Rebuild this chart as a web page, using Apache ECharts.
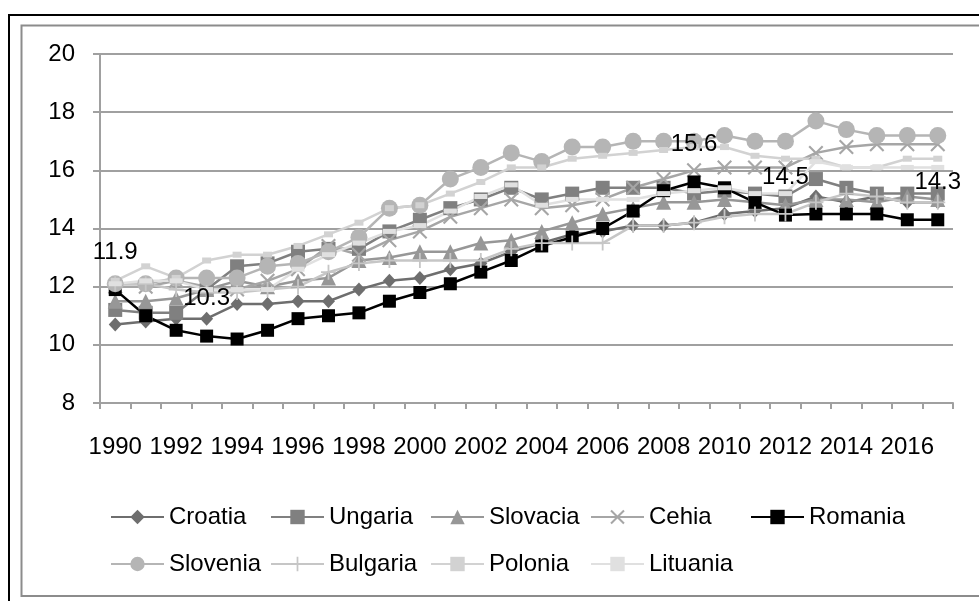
<!DOCTYPE html>
<html>
<head>
<meta charset="utf-8">
<script src="https://cdn.jsdelivr.net/npm/echarts@6/dist/echarts.min.js"></script>
<style>
  html, body { margin: 0; padding: 0; background: #fff; }
  #chart { width: 979px; height: 601px; }
</style>
</head>
<body>
<div id="chart"></div>
<script>
const years = [];
for (let y = 1990; y <= 2017; y++) years.push(String(y));

const croatia  = [10.7, 10.8, 10.9, 10.9, 11.4, 11.4, 11.5, 11.5, 11.9, 12.2, 12.3, 12.6, 12.8, 13.2, 13.5, 13.8, 13.9, 14.1, 14.1, 14.2, 14.5, 14.6, 14.7, 15.1, 14.9, 15.1, 14.9, 14.9];
const ungaria  = [11.2, 11.1, 11.1, 11.9, 12.7, 12.8, 13.2, 13.3, 13.3, 13.9, 14.3, 14.7, 15.0, 15.4, 15.0, 15.2, 15.4, 15.4, 15.4, 15.2, 15.3, 15.2, 15.1, 15.7, 15.4, 15.2, 15.2, 15.2];
const slovacia = [11.5, 11.5, 11.6, 11.9, 12.2, 12.0, 12.2, 12.3, 12.9, 13.0, 13.2, 13.2, 13.5, 13.6, 13.9, 14.2, 14.5, 14.7, 14.9, 14.9, 15.0, 14.9, 14.8, 15.0, 15.0, 14.9, 15.1, 15.0];
const cehia    = [12.0, 12.0, 12.2, 12.0, 11.9, 12.2, 12.6, 13.4, 13.1, 13.6, 13.9, 14.4, 14.7, 15.0, 14.7, 14.8, 15.0, 15.4, 15.7, 16.0, 16.1, 16.1, 16.1, 16.6, 16.8, 16.9, 16.9, 16.9];
const romania  = [11.9, 11.0, 10.5, 10.3, 10.2, 10.5, 10.9, 11.0, 11.1, 11.5, 11.8, 12.1, 12.5, 12.9, 13.4, 13.7, 14.0, 14.6, 15.3, 15.6, 15.4, 14.9, 14.46, 14.5, 14.5, 14.5, 14.3, 14.3];
const slovenia = [12.1, 12.1, 12.3, 12.3, 12.3, 12.7, 12.8, 13.2, 13.7, 14.7, 14.8, 15.7, 16.1, 16.6, 16.3, 16.8, 16.8, 17.0, 17.0, 17.0, 17.2, 17.0, 17.0, 17.7, 17.4, 17.2, 17.2, 17.2];
const bulgaria = [12.1, 12.1, 11.9, 11.8, 11.8, 11.9, 12.0, 12.5, 12.8, 12.9, 12.9, 12.9, 12.9, 13.3, 13.5, 13.5, 13.5, 14.1, 14.1, 14.2, 14.4, 14.5, 14.5, 14.9, 15.2, 15.1, 14.9, 14.9];
const polonia  = [12.2, 12.7, 12.3, 12.9, 13.1, 13.1, 13.4, 13.8, 14.2, 14.7, 14.8, 15.2, 15.6, 16.1, 16.1, 16.4, 16.5, 16.6, 16.7, 16.8, 16.8, 16.5, 16.4, 16.4, 16.1, 16.1, 16.4, 16.4];
const lituania = [12.1, 12.2, 12.2, 11.9, 11.9, 11.9, 12.6, 13.1, 13.5, 13.9, 14.1, 14.6, 15.1, 15.5, 14.8, 15.0, 15.0, 15.0, 15.2, 15.3, 15.4, 15.2, 15.2, 16.3, 16.1, 16.1, 16.1, 16.1];

// Romania points that carry a value label
const romaniaLabelled = [0, 3, 19, 22, 27];

// legend layout: two rows, first five names then four
const legendRows = [
  ['Croatia', 'Ungaria', 'Slovacia', 'Cehia', 'Romania'],
  ['Slovenia', 'Bulgaria', 'Polonia', 'Lituania']
];

const FONT = 'Liberation Sans';
const xMark = 'path://M0,1L1,0L5,4L9,0L10,1L6,5L10,9L9,10L5,6L1,10L0,9L4,5Z';
const plusMark = 'path://M4.4,0H5.6V4.4H10V5.6H5.6V10H4.4V5.6H0V4.4H4.4Z';

function makeSeries(name, data, color, symbol, size) {
  return {
    name: name,
    type: 'line',
    data: data,
    symbol: symbol,
    symbolSize: size,
    showAllSymbol: true,
    lineStyle: { color: color, width: 2.5 },
    itemStyle: { color: color },
    emphasis: { disabled: true }
  };
}

const romaniaData = romania.map((v, i) =>
  romaniaLabelled.includes(i) ? { value: v, label: { show: true } } : v);

const series = [
  makeSeries('Croatia', croatia, '#6e6e6e', 'diamond', [13, 14]),
  makeSeries('Ungaria', ungaria, '#808080', 'rect', 14),
  makeSeries('Slovacia', slovacia, '#979797', 'triangle', 15),
  makeSeries('Cehia', cehia, '#a6a6a6', xMark, 15),
  makeSeries('Romania', romaniaData, '#000000', 'rect', 13),
  makeSeries('Slovenia', slovenia, '#b5b5b5', 'circle', 17),
  makeSeries('Bulgaria', bulgaria, '#c6c6c6', plusMark, 15),
  makeSeries('Polonia', polonia, '#d2d2d2', 'rect', [9, 6]),
  makeSeries('Lituania', lituania, '#e0e0e0', 'rect', [13, 5])
];
series[4].label = {
  show: false,
  position: 'top',
  distance: 19,
  fontFamily: FONT,
  fontSize: 24,
  color: '#000',
  formatter: p => Number(p.value).toFixed(1)
};
series[4].z = 3;

// one legend per entry so every column sits on a fixed 160px pitch
const legends = [];
legendRows.forEach((row, r) => {
  row.forEach((name, c) => {
    legends.push({
      data: [name],
      left: 110 + c * 160,
      top: 505 + r * 47,
      padding: 0,
      itemWidth: 53,
      itemHeight: 18,
      selectedMode: false,
      textStyle: { fontFamily: FONT, fontSize: 24, color: '#000' }
    });
  });
});

const chart = echarts.init(document.getElementById('chart'));
chart.setOption({
  animation: false,
  backgroundColor: '#fff',
  textStyle: { fontFamily: FONT },
  grid: { left: 100, right: 26, top: 54, bottom: 198 },
  xAxis: {
    type: 'category',
    data: years,
    boundaryGap: true,
    axisLine: { lineStyle: { color: '#a0a0a0', width: 2 } },
    axisTick: { show: true, interval: 0, length: 6, lineStyle: { color: '#a0a0a0', width: 2 } },
    axisLabel: { interval: 1, margin: 32, fontFamily: FONT, fontSize: 24, color: '#000' },
    splitLine: { show: false }
  },
  yAxis: {
    type: 'value',
    min: 8,
    max: 20,
    interval: 2,
    axisLine: { show: true, lineStyle: { color: '#a0a0a0', width: 2 } },
    axisTick: { show: true, length: 7, lineStyle: { color: '#a0a0a0', width: 2 } },
    axisLabel: { margin: 25, fontFamily: FONT, fontSize: 24, color: '#000' },
    splitLine: { lineStyle: { color: '#a0a0a0', width: 2 } }
  },
  legend: legends,
  graphic: [
    { type: 'polyline', silent: true, shape: { points: [[9, 601], [9, 15], [979, 15]] }, style: { stroke: '#000', lineWidth: 2, fill: null } },
    { type: 'polyline', silent: true, shape: { points: [[979, 596], [21.5, 596], [21.5, 25.5], [979, 25.5]] }, style: { stroke: '#8c8c8c', lineWidth: 2, fill: null } }
  ],
  series: series
});
</script>
</body>
</html>
